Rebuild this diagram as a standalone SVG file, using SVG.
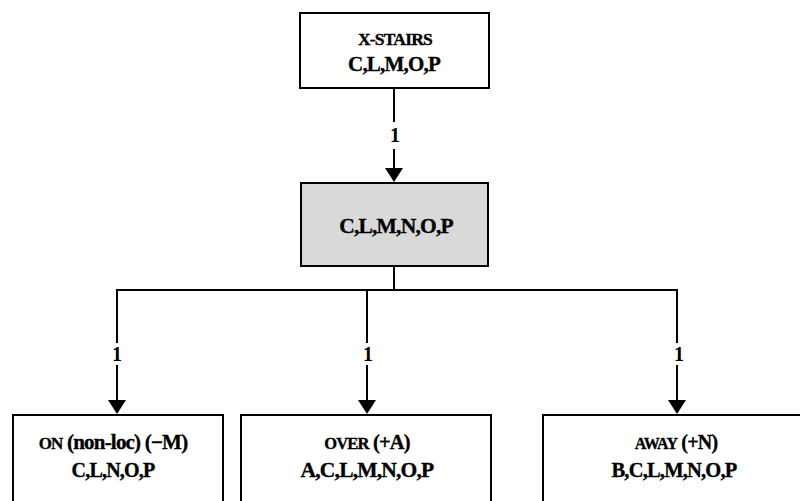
<svg xmlns="http://www.w3.org/2000/svg" width="800" height="501" viewBox="0 0 800 501">
<style>
.box{fill:#fff;stroke:#000;stroke-width:2}
.gray{fill:#d9d9d9}
.t{font-family:"Liberation Serif","Times New Roman",serif;font-weight:bold;text-anchor:middle;fill:#000;stroke:#000;stroke-width:0.35;letter-spacing:-0.8px}
.ln{stroke:#000;stroke-width:2;fill:none}
.lbl{font-family:"Liberation Serif","Times New Roman",serif;font-weight:bold;font-size:20px;text-anchor:middle;fill:#000}
</style>
<rect width="800" height="501" fill="#fff"/>
<g id="connectors">
<line class="ln" x1="394" y1="88" x2="394" y2="168"/>
<polygon points="385,168 403,168 394,182" fill="#000"/>
<rect x="385" y="122" width="18" height="27" fill="#fff"/>
<text class="lbl" x="395" y="142">1</text>
<line class="ln" x1="394" y1="266" x2="394" y2="290"/>
<line class="ln" x1="116" y1="290" x2="678" y2="290"/>
<line class="ln" x1="117" y1="289" x2="117" y2="400"/>
<polygon points="108,400 126,400 117,414" fill="#000"/>
<rect x="108" y="343" width="18" height="22" fill="#fff"/>
<text class="lbl" x="117" y="361">1</text>
<line class="ln" x1="367" y1="290" x2="367" y2="400"/>
<polygon points="358,400 376,400 367,414" fill="#000"/>
<rect x="358" y="343" width="18" height="22" fill="#fff"/>
<text class="lbl" x="368" y="361">1</text>
<line class="ln" x1="677" y1="289" x2="677" y2="400"/>
<polygon points="668,400 686,400 677,414" fill="#000"/>
<rect x="668" y="343" width="18" height="22" fill="#fff"/>
<text class="lbl" x="679" y="361">1</text>
</g>
<g id="node-xstairs">
<rect class="box" x="300" y="13" width="189" height="75"/>
<text class="t" x="395" y="45" font-size="17.5">X-STAIRS</text>
<text class="t" x="394" y="71" font-size="21">C,L,M,O,P</text>
</g>
<g id="node-root">
<rect class="box gray" x="301" y="183" width="187" height="83"/>
<text class="t" x="396" y="233" font-size="21.5">C,L,M,N,O,P</text>
</g>
<g id="node-on">
<rect class="box" x="13" y="415" width="210" height="110"/>
<text class="t" x="113" y="449" font-size="21"><tspan font-size="17">ON</tspan> (non-loc) (−M)</text>
<text class="t" x="113" y="477" font-size="20">C,L,N,O,P</text>
</g>
<g id="node-over">
<rect class="box" x="241" y="415" width="250" height="110"/>
<text class="t" x="367" y="449" font-size="20.5"><tspan font-size="16.5">OVER</tspan> (+A)</text>
<text class="t" x="367" y="477" font-size="21.5">A,C,L,M,N,O,P</text>
</g>
<g id="node-away">
<rect class="box" x="543" y="415" width="270" height="110"/>
<text class="t" x="676" y="449" font-size="20"><tspan font-size="16">AWAY</tspan> (+N)</text>
<text class="t" x="674" y="477" font-size="20.5">B,C,L,M,N,O,P</text>
</g>
</svg>
